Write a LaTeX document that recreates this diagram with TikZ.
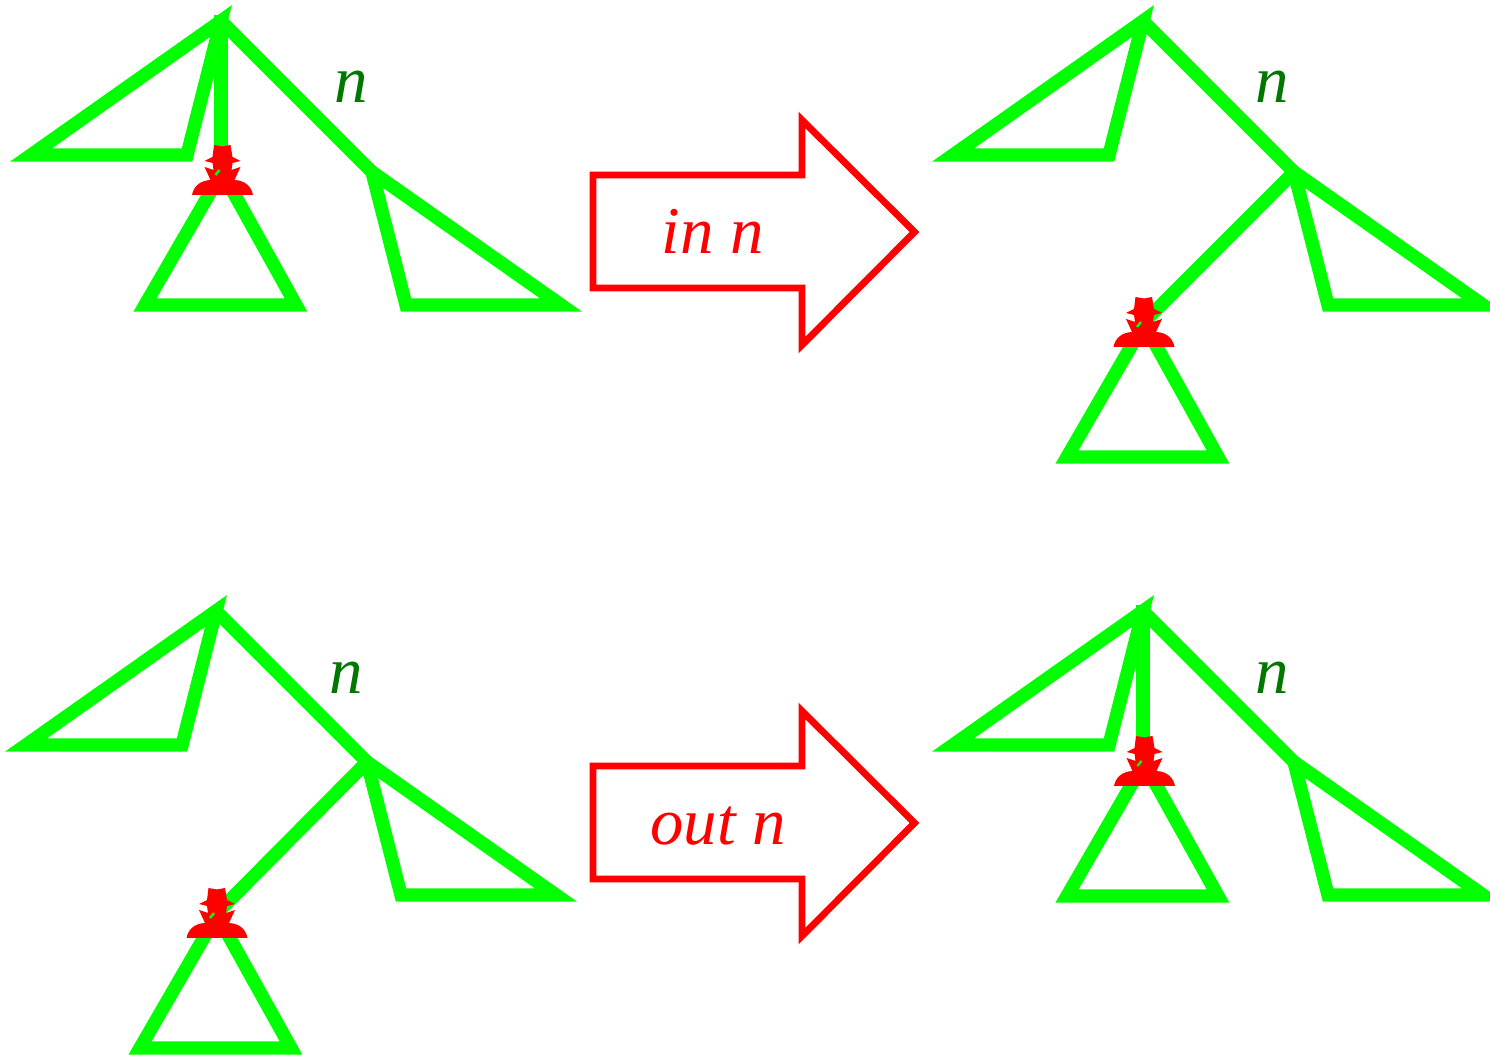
\documentclass[tikz,border=0pt]{standalone}
\usepackage{fontspec}
\setmainfont{Liberation Serif}
\definecolor{treegreen}{RGB}{0,255,0}
\definecolor{labelgreen}{RGB}{0,120,0}
\definecolor{redline}{RGB}{255,0,0}
\tikzset{
  x=0.01cm,y=-0.01cm,
  treeline/.style={draw=treegreen,line width=3.8pt,miter limit=10,line join=miter},
  arrowbox/.style={draw=redline,line width=1.95pt,line join=miter,miter limit=10},
  treelabel/.style={text=labelgreen,font=\fontsize{19}{22}\selectfont\itshape,inner sep=0pt,anchor=base},
  arrowlabel/.style={text=redline,font=\fontsize{19}{22}\selectfont\itshape,inner sep=0pt,anchor=base},
  spyicon/.pic={
    \fill[redline] (-8.5,-25) -- (0,-23.5) -- (8,-25) -- (10,-13) -- (18,-9) -- (10,-7) -- (9,0)
      -- (18,-3) -- (12,10) .. controls (23,10.5) and (29,17) .. (30.5,25) -- (-30.5,25)
      .. controls (-29,17) and (-23,10.5) .. (-12,10) -- (-18,-3) -- (-9,0) -- (-10,-7)
      -- (-18,-9) -- (-10,-13) -- cycle;
    \draw[treegreen,line width=0.7pt] (-7,5) -- (-3,0);
  }
}
% #1 prefix, #2 dx, #3 dy: upper tree with both fixed triangles
\newcommand{\uppertree}[3]{
  \coordinate (#1apex) at (221+#2,21+#3);
  \coordinate (#1ll) at (31+#2,155+#3);
  \coordinate (#1lr) at (187+#2,155+#3);
  \coordinate (#1fork) at (372+#2,172+#3);
  \coordinate (#1rl) at (406+#2,305+#3);
  \coordinate (#1rr) at (561+#2,305+#3);
  \draw[treeline] (#1apex) -- (#1ll) -- (#1lr) -- cycle;
  \draw[treeline] (#1apex) -- (#1fork);
  \draw[treeline] (#1fork) -- (#1rr) -- (#1rl) -- cycle;
}
% #1 prefix, #2 x, #3 y of the spy centre: the subtree triangle below it
\newcommand{\spytree}[3]{
  \coordinate (#1top) at (#2,#3+2);
  \coordinate (#1bl) at (#2-77,#3+135);
  \coordinate (#1br) at (#2+74,#3+135);
  \draw[treeline] (#1top) -- (#1bl) -- (#1br) -- cycle;
}
\newcommand{\bigarrow}[2]{
  \coordinate (#1a) at (593,175+#2);
  \coordinate (#1b) at (802,175+#2);
  \coordinate (#1c) at (802,120+#2);
  \coordinate (#1d) at (914.5,232+#2);
  \coordinate (#1e) at (802,345+#2);
  \coordinate (#1f) at (802,288+#2);
  \coordinate (#1g) at (593,288+#2);
  \draw[arrowbox] (#1a) -- (#1b) -- (#1c) -- (#1d) -- (#1e) -- (#1f) -- (#1g) -- cycle;
}
\begin{document}
\begin{tikzpicture}
\useasboundingbox (0,0) rectangle (1490,1055);
\begin{scope}
\clip (0,0) rectangle (1490,1055);
% panel A
\uppertree{a}{0}{0}
\spytree{as}{222}{170}
\coordinate (aspy) at (221,170);
\draw[treeline] (221,15) -- (aspy);
\pic at (222.5,170) {spyicon};
\node[treelabel] (an) at (351,103) {n};
% panel B
\uppertree{b}{922}{0}
\spytree{bs}{1144}{322}
\coordinate (bspy) at (1144,322);
\draw[treeline] (bfork) -- (bspy);
\pic at (1144,322) {spyicon};
\node[treelabel] (bn) at (1272,103) {n};
% panel C
\uppertree{c}{-5}{590}
\spytree{cs}{217}{913}
\coordinate (cspy) at (217,913);
\draw[treeline] (cfork) -- (cspy);
\pic at (217,913) {spyicon};
\node[treelabel] (cn) at (346,694) {n};
% panel D
\uppertree{d}{922}{590}
\spytree{ds}{1144}{761}
\coordinate (dspy) at (1143,761);
\draw[treeline] (1143,605) -- (dspy);
\pic at (1144.5,761) {spyicon};
\node[treelabel] (dn) at (1272,694) {n};
\end{scope}
% arrows
\bigarrow{u}{0}
\bigarrow{l}{591}
\node[arrowlabel] (inlabel) at (713,254) {in n};
\node[arrowlabel] (outlabel) at (718,844) {out n};
\end{tikzpicture}
\end{document}
